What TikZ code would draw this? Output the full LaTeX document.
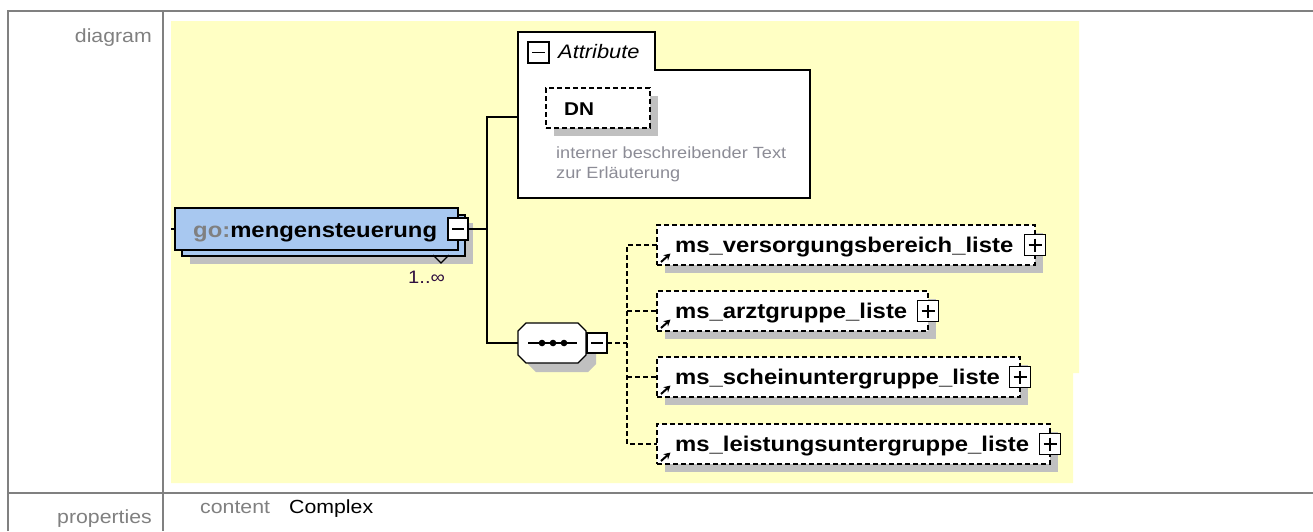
\documentclass[tikz,border=0pt]{standalone}
\usepackage{fontspec}
\setmainfont{Liberation Sans}
\newfontfamily\dfont[FakeStretch=1.12]{Liberation Sans}
\usetikzlibrary{shadows,arrows.meta}
\definecolor{ybg}{RGB}{255,255,196}
\definecolor{elblue}{RGB}{168,200,240}
\definecolor{shgray}{RGB}{192,192,192}
\definecolor{tgray}{RGB}{128,128,128}
\definecolor{descgray}{RGB}{140,140,150}
\definecolor{occ}{RGB}{48,16,64}
\tikzset{
  bx/.style={draw, line width=1.2pt, inner sep=0pt, outer sep=0pt},
  shd/.style={drop shadow={shadow xshift=8pt, shadow yshift=-8pt, fill=shgray, opacity=1}},
  childbox/.style={bx, fill=white, dash pattern=on 5pt off 3pt, anchor=north west, minimum height=40pt, shd},
  pmbox/.style={bx, fill=white, minimum width=21pt, minimum height=21pt},
  plusbox/.style={pmbox, path picture={
      \draw[line width=1.3pt] ([xshift=4pt]path picture bounding box.west) -- ([xshift=-4pt]path picture bounding box.east);
      \draw[line width=1.3pt] ([yshift=-4pt]path picture bounding box.north) -- ([yshift=4pt]path picture bounding box.south);}},
  minusbox/.style={pmbox, path picture={
      \draw[line width=1.3pt] ([xshift=4pt]path picture bounding box.west) -- ([xshift=-4pt]path picture bounding box.east);}},
  nametxt/.style={font=\dfont\bfseries\fontsize{21.3}{25}\selectfont, inner sep=0pt, anchor=base west},
  labtxt/.style={font=\dfont\fontsize{19}{23}\selectfont, inner sep=0pt, text=tgray},
  tline/.style={draw=tgray, line width=2pt},
  conn/.style={line width=1.2pt},
  dconn/.style={line width=1.2pt, dash pattern=on 5pt off 3pt},
  refarrow/.style={line width=2pt, -{Stealth[length=6.5pt,width=7pt]}}
}
\begin{document}
\begin{tikzpicture}[x=1pt,y=-1pt]
\useasboundingbox (0,0) rectangle (1313,531);
\fill[white] (0,0) rectangle (1313,531);
% table
\draw[tline] (8,531) -- (8,11) -- (1313,11);
\draw[tline] (163,11) -- (163,531);
\draw[tline] (8,493) -- (1313,493);
\node[labtxt, anchor=base east] (ldiag) at (152,42) {diagram};
\node[labtxt, anchor=base east] (lprop) at (152,523) {properties};
\node[labtxt, anchor=base west] (lcont) at (200,513) {content};
\node[labtxt, anchor=base west, text=black] (lcplx) at (289,513) {Complex};
% yellow background
\fill[ybg] (171,21) -- (1079,21) -- (1079,373) -- (1073,373) -- (1073,483) -- (171,483) -- cycle;

% main element
\node[bx, fill=elblue, minimum width=283pt, minimum height=41pt, anchor=north west, shd] (elb) at (182,215) {};
\node[bx, fill=elblue, minimum width=283pt, minimum height=42pt, anchor=north west] (el) at (175,208) {};
\node[nametxt] (elt) at (193,237) {\textcolor{tgray}{go:}mengensteuerung};
\node[minusbox, minimum width=20pt, minimum height=22pt] (elm) at (458,229) {};
\draw[line width=1.2pt] (433,255) -- (441,263) -- (449,255);
\node[font=\dfont\fontsize{18}{22}\selectfont, text=occ, inner sep=0pt, anchor=base west] (occ) at (408,283) {1..∞};
\coordinate (ystart) at (171,229);
\draw[conn] (ystart) -- (el.west |- ystart);

% attributes
\draw[line width=1.2pt, fill=white] (518,198) -- (518,32) -- (655,32) -- (655,70) -- (810,70) -- (810,198) -- cycle;
\coordinate (attrL) at (518,117);
\node[minusbox] (am) at (538.5,52.5) {};
\node[font=\dfont\itshape\fontsize{19.5}{23}\selectfont, inner sep=0pt, anchor=base west] (attt) at (558,58) {Attribute};
\node[bx, fill=white, dash pattern=on 5pt off 3pt, minimum width=104pt, minimum height=40pt, anchor=north west, shd] (dn) at (546,88) {};
\node[font=\dfont\bfseries\fontsize{18.5}{22}\selectfont, inner sep=0pt, anchor=base west] (dnt) at (564,115) {DN};
\node[font=\dfont\fontsize{16.2}{20}\selectfont, text=descgray, inner sep=0pt, anchor=base west] (d1) at (556,158) {interner beschreibender Text};
\node[font=\dfont\fontsize{16.2}{20}\selectfont, text=descgray, inner sep=0pt, anchor=base west] (d2) at (556,178) {zur Erläuterung};

% sequence compositor (octagon)
\node[inner sep=0pt, outer sep=0pt, minimum width=68pt, minimum height=40pt, anchor=north west] (seq) at (518,323) {};
\fill[shgray] ([shift={(18,9)}]seq.north west) -- ([shift={(2,9)}]seq.north east) -- ([shift={(10,17)}]seq.north east)
   -- ([shift={(10,1)}]seq.south east) -- ([shift={(2,9)}]seq.south east) -- ([shift={(18,9)}]seq.south west)
   -- ([shift={(10,1)}]seq.south west) -- ([shift={(10,17)}]seq.north west) -- cycle;
\draw[line width=1.2pt, fill=white] ([xshift=8pt]seq.north west) -- ([xshift=-8pt]seq.north east) -- ([yshift=-8pt]seq.north east)
   -- ([yshift=8pt]seq.south east) -- ([xshift=-8pt]seq.south east) -- ([xshift=8pt]seq.south west)
   -- ([yshift=8pt]seq.south west) -- ([yshift=-8pt]seq.north west) -- cycle;
\draw[line width=1.2pt] ([xshift=10pt]seq.west) -- ([xshift=-9pt]seq.east);
\fill ([xshift=24pt]seq.west) circle (3.3);
\fill ([xshift=35pt]seq.west) circle (3.3);
\fill ([xshift=46pt]seq.west) circle (3.3);
\node[minusbox, minimum width=20pt, minimum height=20pt] (sm) at (597,343) {};

% solid connectors
\coordinate (j1) at (487,229);
\draw[conn] (elm.east) -- (j1);
\draw[conn] (attrL) -| (j1) |- (seq.west);

% children
\node[childbox, minimum width=378pt] (vb) at (657,225) {};
\node[childbox, minimum width=271pt] (ag) at (657,291) {};
\node[childbox, minimum width=363pt] (su) at (657,357) {};
\node[childbox, minimum width=393pt] (lu) at (657,424) {};
\node[plusbox] (vbp) at (vb.east) {};
\node[plusbox] (agp) at (ag.east) {};
\node[plusbox] (sup) at (su.east) {};
\node[plusbox] (lup) at (lu.east) {};
\node[nametxt] (vbt) at (675,252) {ms\_versorgungsbereich\_liste};
\node[nametxt] (agt) at (675,318) {ms\_arztgruppe\_liste};
\node[nametxt] (sut) at (675,384) {ms\_scheinuntergruppe\_liste};
\node[nametxt] (lut) at (675,451) {ms\_leistungsuntergruppe\_liste};
\foreach \n in {vb,ag,su,lu}{
  \draw[refarrow] ([shift={(4,-3)}]\n.south west) -- ([shift={(13.5,-11.5)}]\n.south west);
}

% dashed connectors
\coordinate (j2) at (627,343);
\draw[dconn] (sm.east) -- (j2);
\draw[dconn] (vb.west) -| (j2) |- (lu.west);
\draw[dconn] (j2 |- ag.west) -- (ag.west);
\draw[dconn] (j2 |- su.west) -- (su.west);
\end{tikzpicture}
\end{document}
